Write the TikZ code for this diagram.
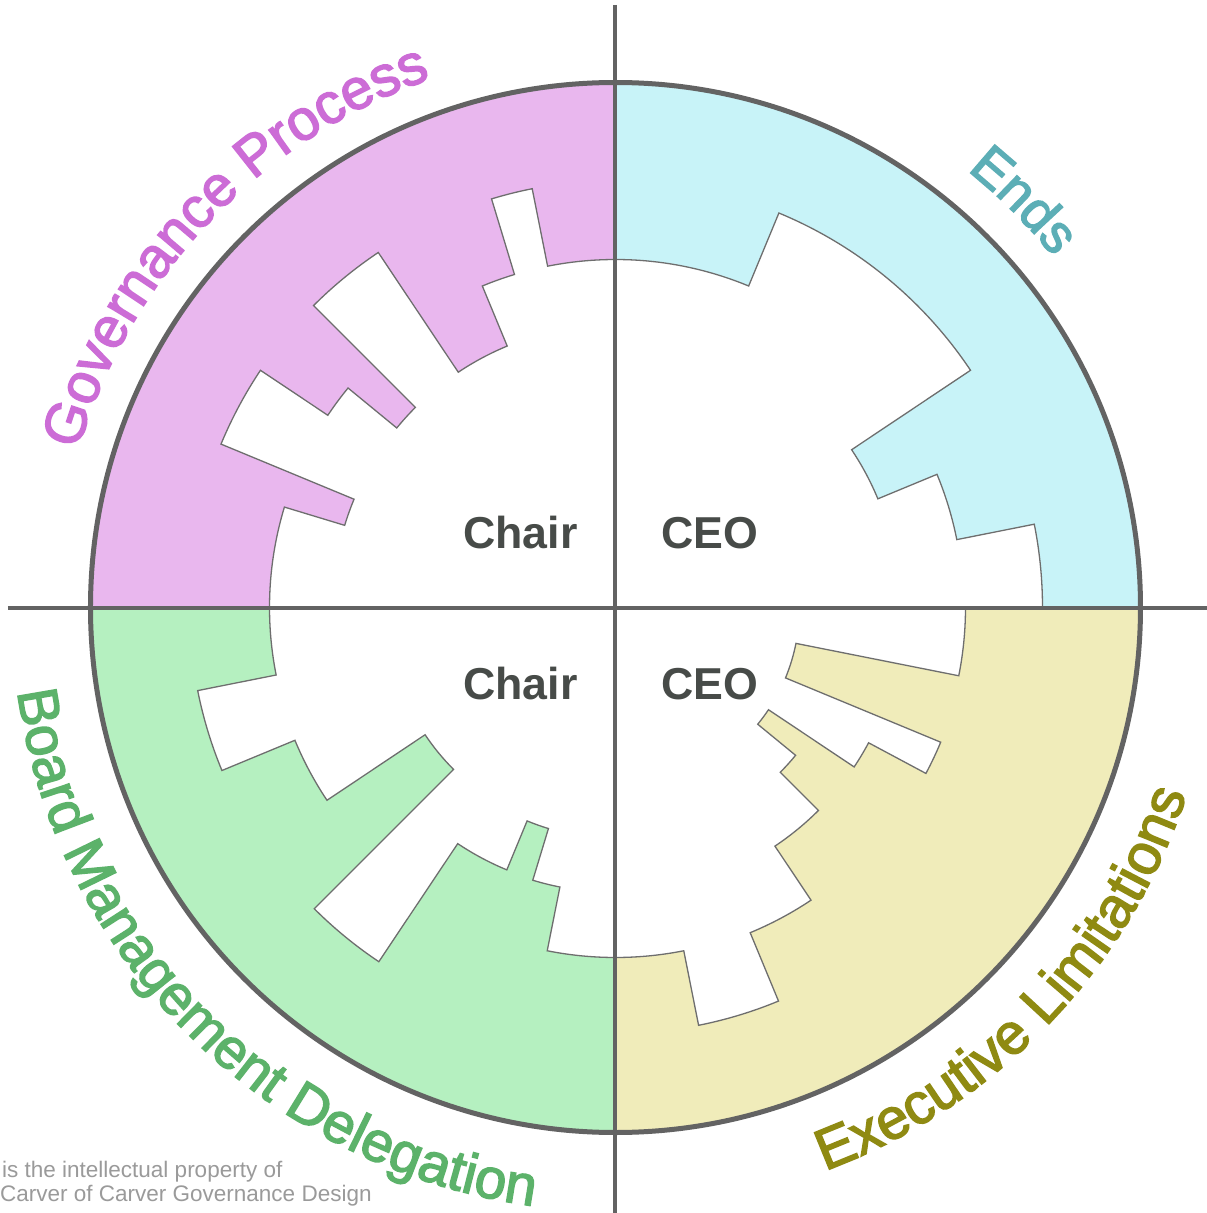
\documentclass[tikz,border=0pt]{standalone}
\usepackage{fontspec}
\setmainfont{Liberation Sans}
\newfontfamily\labfont{Liberation Sans}[FakeBold=2.5]
\usetikzlibrary{decorations.text}
\definecolor{pinkq}{HTML}{E9B7EE}
\definecolor{cyanq}{HTML}{C8F3F8}
\definecolor{greenq}{HTML}{B5F0C0}
\definecolor{yellowq}{HTML}{F0ECBA}
\definecolor{govc}{HTML}{CC6CD6}
\definecolor{endsc}{HTML}{5CAEB6}
\definecolor{boardc}{HTML}{5CB26A}
\definecolor{execc}{HTML}{8F8A12}
\definecolor{axisc}{HTML}{636363}
\definecolor{edgec}{HTML}{6E6E6E}
\definecolor{rolec}{HTML}{474B48}
\definecolor{notec}{HTML}{9A9A9A}
\tikzset{
  starshape/.style={fill=white, draw=edgec, line width=1.3pt, line join=miter},
  axisline/.style={draw=axisc, line width=4pt},
  rimline/.style={draw=axisc, line width=5pt},
  rolelabel/.style={anchor=base west, inner sep=0pt, text=rolec, font=\bfseries\fontsize{44.7pt}{44.7pt}\selectfont},
  notelabel/.style={anchor=base west, inner sep=0pt, text=notec, font=\fontsize{22.5pt}{22.5pt}\selectfont},
}
\begin{document}
\begin{tikzpicture}[x=1pt,y=1pt]
\useasboundingbox (-615.5,-605.5) rectangle (591.5,607.5);
\fill[white] (-615.5,-605.5) rectangle (591.5,607.5);
% quadrant sectors
\fill[cyanq]   (0,0) -- (0:525pt) arc[start angle=0,end angle=90,radius=525pt] -- cycle;
\fill[pinkq]   (0,0) -- (90:525pt) arc[start angle=90,end angle=180,radius=525pt] -- cycle;
\fill[greenq]  (0,0) -- (180:525pt) arc[start angle=180,end angle=270,radius=525pt] -- cycle;
\fill[yellowq] (0,0) -- (270:525pt) arc[start angle=270,end angle=360,radius=525pt] -- cycle;
% white polar staircase
\path[starshape]
 (0:427pt) arc[start angle=0,end angle=11.25,radius=427pt]
 -- (11.25:348pt) arc[start angle=11.25,end angle=22.5,radius=348pt]
 -- (22.5:284pt) arc[start angle=22.5,end angle=33.75,radius=284pt]
 -- (33.75:427pt) arc[start angle=33.75,end angle=67.5,radius=427pt]
 -- (67.5:348pt) arc[start angle=67.5,end angle=101.25,radius=348pt]
 -- (101.25:427pt) arc[start angle=101.25,end angle=106.875,radius=427pt]
 -- (106.875:348pt) arc[start angle=106.875,end angle=112.5,radius=348pt]
 -- (112.5:283pt) arc[start angle=112.5,end angle=123.75,radius=283pt]
 -- (123.75:427pt) arc[start angle=123.75,end angle=135,radius=427pt]
 -- (135:283pt) arc[start angle=135,end angle=140.625,radius=283pt]
 -- (140.625:346pt) arc[start angle=140.625,end angle=146.25,radius=346pt]
 -- (146.25:427pt) arc[start angle=146.25,end angle=157.5,radius=427pt]
 -- (157.5:283pt) arc[start angle=157.5,end angle=163.125,radius=283pt]
 -- (163.125:346pt) arc[start angle=163.125,end angle=191.25,radius=346pt]
 -- (191.25:426pt) arc[start angle=191.25,end angle=202.5,radius=426pt]
 -- (202.5:347pt) arc[start angle=202.5,end angle=213.75,radius=347pt]
 -- (213.75:229pt) arc[start angle=213.75,end angle=225,radius=229pt]
 -- (225:426pt) arc[start angle=225,end angle=236.25,radius=426pt]
 -- (236.25:284pt) arc[start angle=236.25,end angle=247.5,radius=284pt]
 -- (247.5:231pt) arc[start angle=247.5,end angle=253.125,radius=231pt]
 -- (253.125:285pt) arc[start angle=253.125,end angle=258.75,radius=285pt]
 -- (258.75:350pt) arc[start angle=258.75,end angle=281.25,radius=350pt]
 -- (281.25:426pt) arc[start angle=281.25,end angle=292.5,radius=426pt]
 -- (292.5:352pt) arc[start angle=292.5,end angle=303.75,radius=352pt]
 -- (303.75:287pt) arc[start angle=303.75,end angle=315,radius=287pt]
 -- (315:233pt) arc[start angle=315,end angle=320.625,radius=233pt]
 -- (320.625:184pt) arc[start angle=320.625,end angle=326.25,radius=184pt]
 -- (326.25:287pt) arc[start angle=326.25,end angle=331.875,radius=287pt]
 -- (331.875:352pt) arc[start angle=331.875,end angle=337.5,radius=352pt]
 -- (337.5:184pt) arc[start angle=337.5,end angle=348.75,radius=184pt]
 -- (348.75:350pt) arc[start angle=348.75,end angle=360,radius=350pt]
 -- cycle;
% rim
\draw[rimline] (0,0) circle[radius=525pt];
% axes
\coordinate (vtop) at (0,602.5);
\coordinate (vbot) at (0,-605.5);
\coordinate (hleft) at (-607.5,0);
\coordinate (hright) at (591.5,0);
\draw[axisline] (vtop) -- (vbot);
\draw[axisline] (hleft) -- (hright);
% role labels
\node[rolelabel] (chairtop) at (-152.5,59.2) {Chair};
\node[rolelabel] (ceotop) at (45.5,59.2) {CEO};
\node[rolelabel] (chairbot) at (-152.5,-91.8) {Chair};
\node[rolelabel] (ceobot) at (45.5,-91.8) {CEO};
% curved quadrant titles
\path[decorate, decoration={text along path, text align=left, text color=govc,
  text={|\labfont\fontsize{57pt}{57pt}\selectfont|Governance Process}}]
  (163.7:560pt) arc[start angle=163.7,end angle=95,radius=560pt];
\path[decorate, decoration={text along path, text align=left, text color=endsc,
  text={|\labfont\fontsize{54pt}{54pt}\selectfont|Ends}}]
  (51.2:561pt) arc[start angle=51.2,end angle=20,radius=561pt];
\path[decorate, decoration={text along path, text align=left, text color=boardc,
  text={|\labfont\fontsize{56.5pt}{56.5pt}\selectfont|Board Management Delegation}}]
  (188.0:604pt) arc[start angle=188.0,end angle=272,radius=604pt];
\path[decorate, decoration={text along path, text align=left, text color=execc,
  text={|\labfont\fontsize{57.5pt}{57.5pt}\selectfont|Executive Limitations}}]
  (290.4:601pt) arc[start angle=290.4,end angle=350,radius=601pt];
% note
\node[notelabel] (note1) at (-613.5,-569.5) {is the intellectual property of};
\node[notelabel] (note2) at (-615.5,-593.5) {Carver of Carver Governance Design};
\end{tikzpicture}
\end{document}
